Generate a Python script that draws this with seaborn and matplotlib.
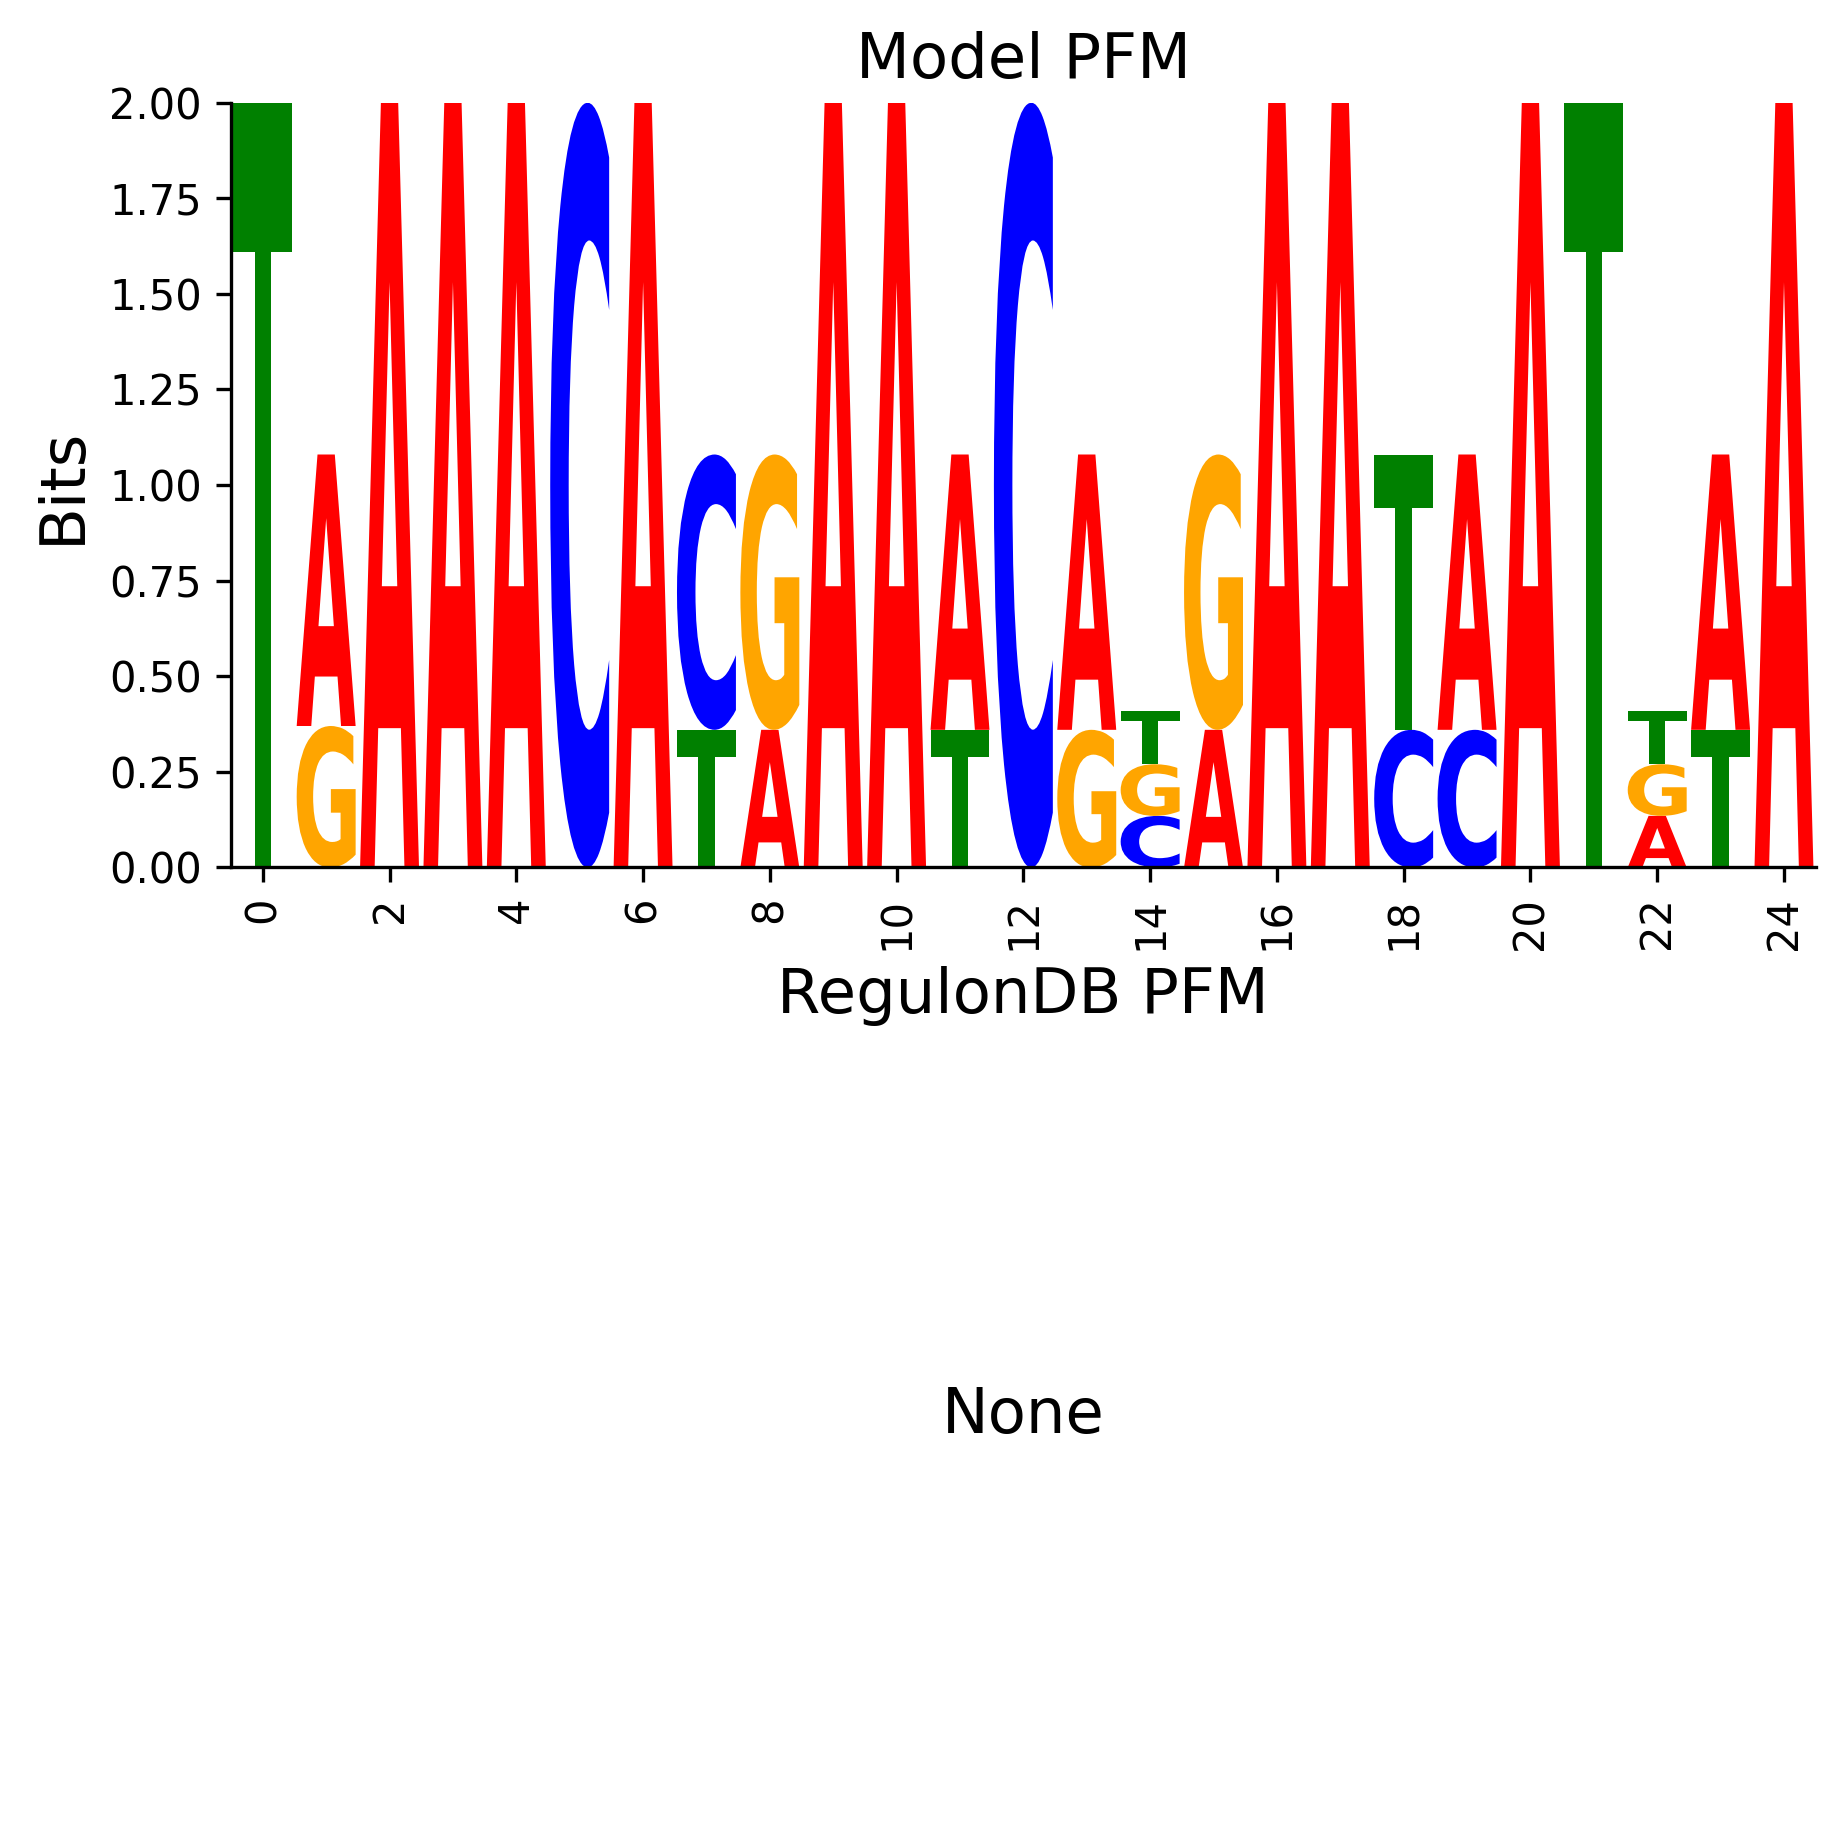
import matplotlib
matplotlib.use("Agg")
import matplotlib.pyplot as plt
import seaborn as sns
import numpy as np
from matplotlib.textpath import TextPath
from matplotlib.patches import PathPatch
from matplotlib.font_manager import FontProperties
from matplotlib.transforms import Affine2D

positions = list(range(25))
A = [0, 0.71, 2, 2, 2, 0, 2, 0, 0.36, 2, 2, 0.72, 0, 0.72, 0, 0.36, 2, 2, 0, 0.72, 2, 0, 0.135, 0.72, 2]
C = [0, 0, 0, 0, 0, 2, 0, 0.72, 0, 0, 0, 0, 2, 0, 0.135, 0, 0, 0, 0.36, 0.36, 0, 0, 0, 0, 0]
G = [0, 0.37, 0, 0, 0, 0, 0, 0, 0.72, 0, 0, 0, 0, 0.36, 0.135, 0.72, 0, 0, 0, 0, 0, 0, 0.135, 0, 0]
T = [2, 0, 0, 0, 0, 0, 0, 0.36, 0, 0, 0, 0.36, 0, 0, 0.14, 0, 0, 0, 0.72, 0, 0, 2, 0.14, 0.36, 0]
letters = {"A": A, "C": C, "G": G, "T": T}
colors = {"A": "red", "C": "blue", "G": "orange", "T": "green"}

sns.set_style("ticks", {"text.color": "black", "axes.labelcolor": "black",
                        "xtick.color": "black", "ytick.color": "black",
                        "axes.edgecolor": "black"})
fig = plt.figure(figsize=(1834/300, 1834/300), dpi=300)
ax = fig.add_axes([0.126, 0.527, 0.864, 0.417])
ax2 = fig.add_axes([0.126, 0.02, 0.864, 0.185])

fp = FontProperties(family="DejaVu Sans", weight="bold")
width = 0.93

def draw_letter(ch, x, y0, h):
    tp = TextPath((0, 0), ch, size=1, prop=fp)
    bb = tp.get_extents()
    tr = (Affine2D().translate(-bb.x0, -bb.y0)
          .scale(width / bb.width, h / bb.height)
          .translate(x - width / 2, y0))
    path = tr.transform_path(tp)
    ax.add_patch(PathPatch(path, facecolor=colors[ch], edgecolor="none"))

for i in positions:
    items = [(letters[k][i], k) for k in "ACGT" if letters[k][i] > 0]
    items.sort(key=lambda t: t[0])
    y = 0
    for h, k in items:
        draw_letter(k, i, y, h)
        y += h

ax.set_xlim(-0.5, 24.5)
ax.set_ylim(0, 2)
ax.set_xticks(range(0, 25, 2))
ax.set_yticks(np.arange(0, 2.01, 0.25))
ax.set_yticklabels([f"{v:.2f}" for v in np.arange(0, 2.01, 0.25)])
ax.tick_params(axis="x", labelrotation=90, labelsize=10)
ax.tick_params(axis="y", labelsize=10)
ax.set_ylabel("Bits", fontsize=15)
ax.set_xlabel("RegulonDB PFM", fontsize=15)
ax.set_title("Model PFM", fontsize=15)
sns.despine(ax=ax)

ax2.axis("off")
ax2.set_title("None", fontsize=15)

fig.savefig("out.png", dpi=300)
